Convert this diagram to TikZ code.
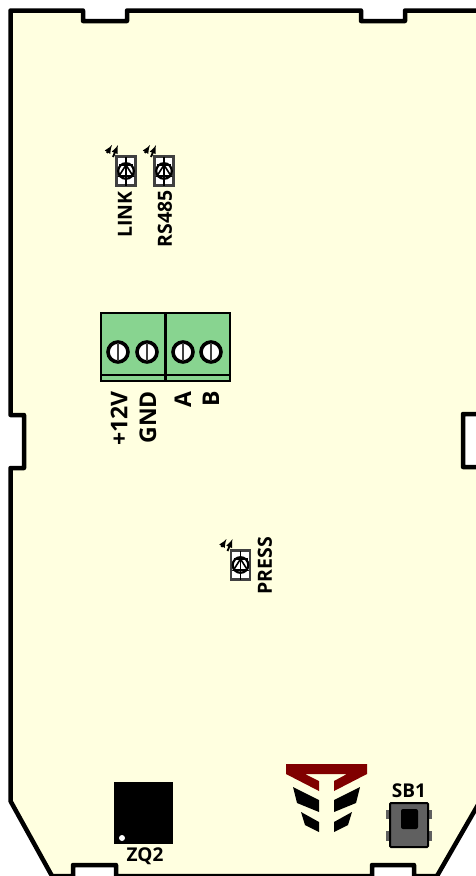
\documentclass[tikz,border=0pt]{standalone}
\usepackage{fontspec}
\setmainfont{Open Sans}
\definecolor{boardfill}{RGB}{255,255,224}
\definecolor{blockfill}{RGB}{136,212,144}
\definecolor{logored}{RGB}{128,0,0}
\definecolor{keygray}{RGB}{96,96,96}
\tikzset{
  outline/.style={line width=4.5pt,line join=round},
  pinlabel/.style={font=\bfseries\fontsize{23}{23}\selectfont,rotate=90,inner sep=0pt},
  ledlabel/.style={font=\bfseries\fontsize{19.5}{20}\selectfont,rotate=90,inner sep=0pt},
  partlabel/.style={font=\bfseries\fontsize{19}{20}\selectfont,inner sep=0pt},
  screwhead/.style={draw=black,line width=3.6pt,fill=white,circle,minimum size=20pt,inner sep=0pt},
  ledbox/.style={draw=black!75,line width=2.2pt,fill=white},
  ledmark/.style={line width=1.6pt},
}
\newcommand{\ledsymbol}[2]{%
  \draw [ledbox] (#1-9.5,#2-14.5) rectangle (#1+9.5,#2+14.5);%
  \fill [white] (#1,#2) circle (8);%
  \draw [ledmark,line width=2.2pt] (#1,#2) circle (7.8);%
  \draw [ledmark] (#1,#2-14.5) -- (#1,#2+14.5);%
  \draw [ledmark] (#1-7,#2+5) -- (#1,#2-6) -- (#1+7,#2+5) -- cycle;%
  \draw [ledmark] (#1-7,#2-6) -- (#1+7,#2-6);%
  \draw [ledmark,line width=1.9pt,-latex] (#1-19,#2-18) -- (#1-14,#2-26);%
  \draw [ledmark,line width=1.9pt,-latex] (#1-13,#2-14) -- (#1-8,#2-26);%
}
\newcommand{\screwsymbol}[2]{%
  \node [screwhead] (#1) at (#2,352) {};%
  \draw [line width=2.4pt,black!75] (#2,343) -- (#2,361);%
}
\begin{document}
\begin{tikzpicture}[x=1pt,y=-1pt]
  \useasboundingbox (0,0) rectangle (476,876);
  \clip (0,0) rectangle (476,876);

  % Drawing board outline
  \draw [outline,fill=boardfill] (10.5,10.5) -- (83,10.5) -- (83,21) -- (127,21) -- (127,10.5)
    -- (361,10.5) -- (361,21) -- (405,21) -- (405,10.5) -- (490,10.5)
    -- (490,414) -- (463,414) -- (463,467) -- (490,467) -- (490,784)
    -- (437,876) -- (414,876) -- (414,865) -- (372,865) -- (372,876)
    -- (116,876) -- (116,865) -- (73,865) -- (73,876) -- (52,876) -- (10.5,801)
    -- (10.5,468) -- (24,468) -- (24,415) -- (10.5,415) -- cycle;

  % Drawing terminal block
  \draw [line width=2.7pt,fill=blockfill] (101,313) rectangle (230,381);
  \draw [line width=2.7pt] (101,375) -- (230,375);
  \draw [line width=2.7pt] (165.5,313) -- (165.5,381);
  \screwsymbol{s1}{118}
  \screwsymbol{s2}{147}
  \screwsymbol{s3}{183}
  \screwsymbol{s4}{211}

  % Marking terminal pins
  \node [pinlabel,anchor=east] (vin) at (119,391) {+12V};
  \node [pinlabel,anchor=east] (gnd) at (148,391) {GND};
  \node [pinlabel,anchor=east] (pa) at (183,391) {A};
  \node [pinlabel,anchor=east] (pb) at (211,391) {B};

  % Marking LEDs
  \ledsymbol{126}{171}
  \ledsymbol{164}{171}
  \ledsymbol{240.5}{565}
  \node [ledlabel,anchor=east] (link) at (125,191) {LINK};
  \node [ledlabel,anchor=east] (rs) at (165,190) {RS485};
  \node [ledlabel] (press) at (265,566) {PRESS};

  % Drawing logo
  \fill [logored] (286,764) -- (367,764) -- (367,774) -- (334,791) -- (334,781)
    -- (347,774) -- (305,774) -- (319,781) -- (319,791) -- (286,774) -- cycle;
  \fill (293,787) -- (319,800) -- (319,812) -- (297,803) -- cycle;
  \fill (360,787) -- (334,800) -- (334,812) -- (356,803) -- cycle;
  \fill (301,812) -- (319,822) -- (319,832) -- (305,825) -- cycle;
  \fill (352,812) -- (334,822) -- (334,832) -- (348,825) -- cycle;

  % Drawing ZQ2
  \fill (114,782) rectangle (173,844);
  \fill [white] (122,838) circle (3);
  \node [partlabel] (zq) at (145,856) {ZQ2};

  % Drawing SB1
  \fill [keygray] (386,810) rectangle (432,819);
  \fill [keygray] (386,831) rectangle (432,841);
  \draw [line width=2pt,fill=keygray,rounded corners=1pt] (390,803) rectangle (428,847);
  \fill [rounded corners=2pt] (401,809) rectangle (418,829);
  \node [partlabel] (sb) at (409,791) {SB1};
\end{tikzpicture}
\end{document}
